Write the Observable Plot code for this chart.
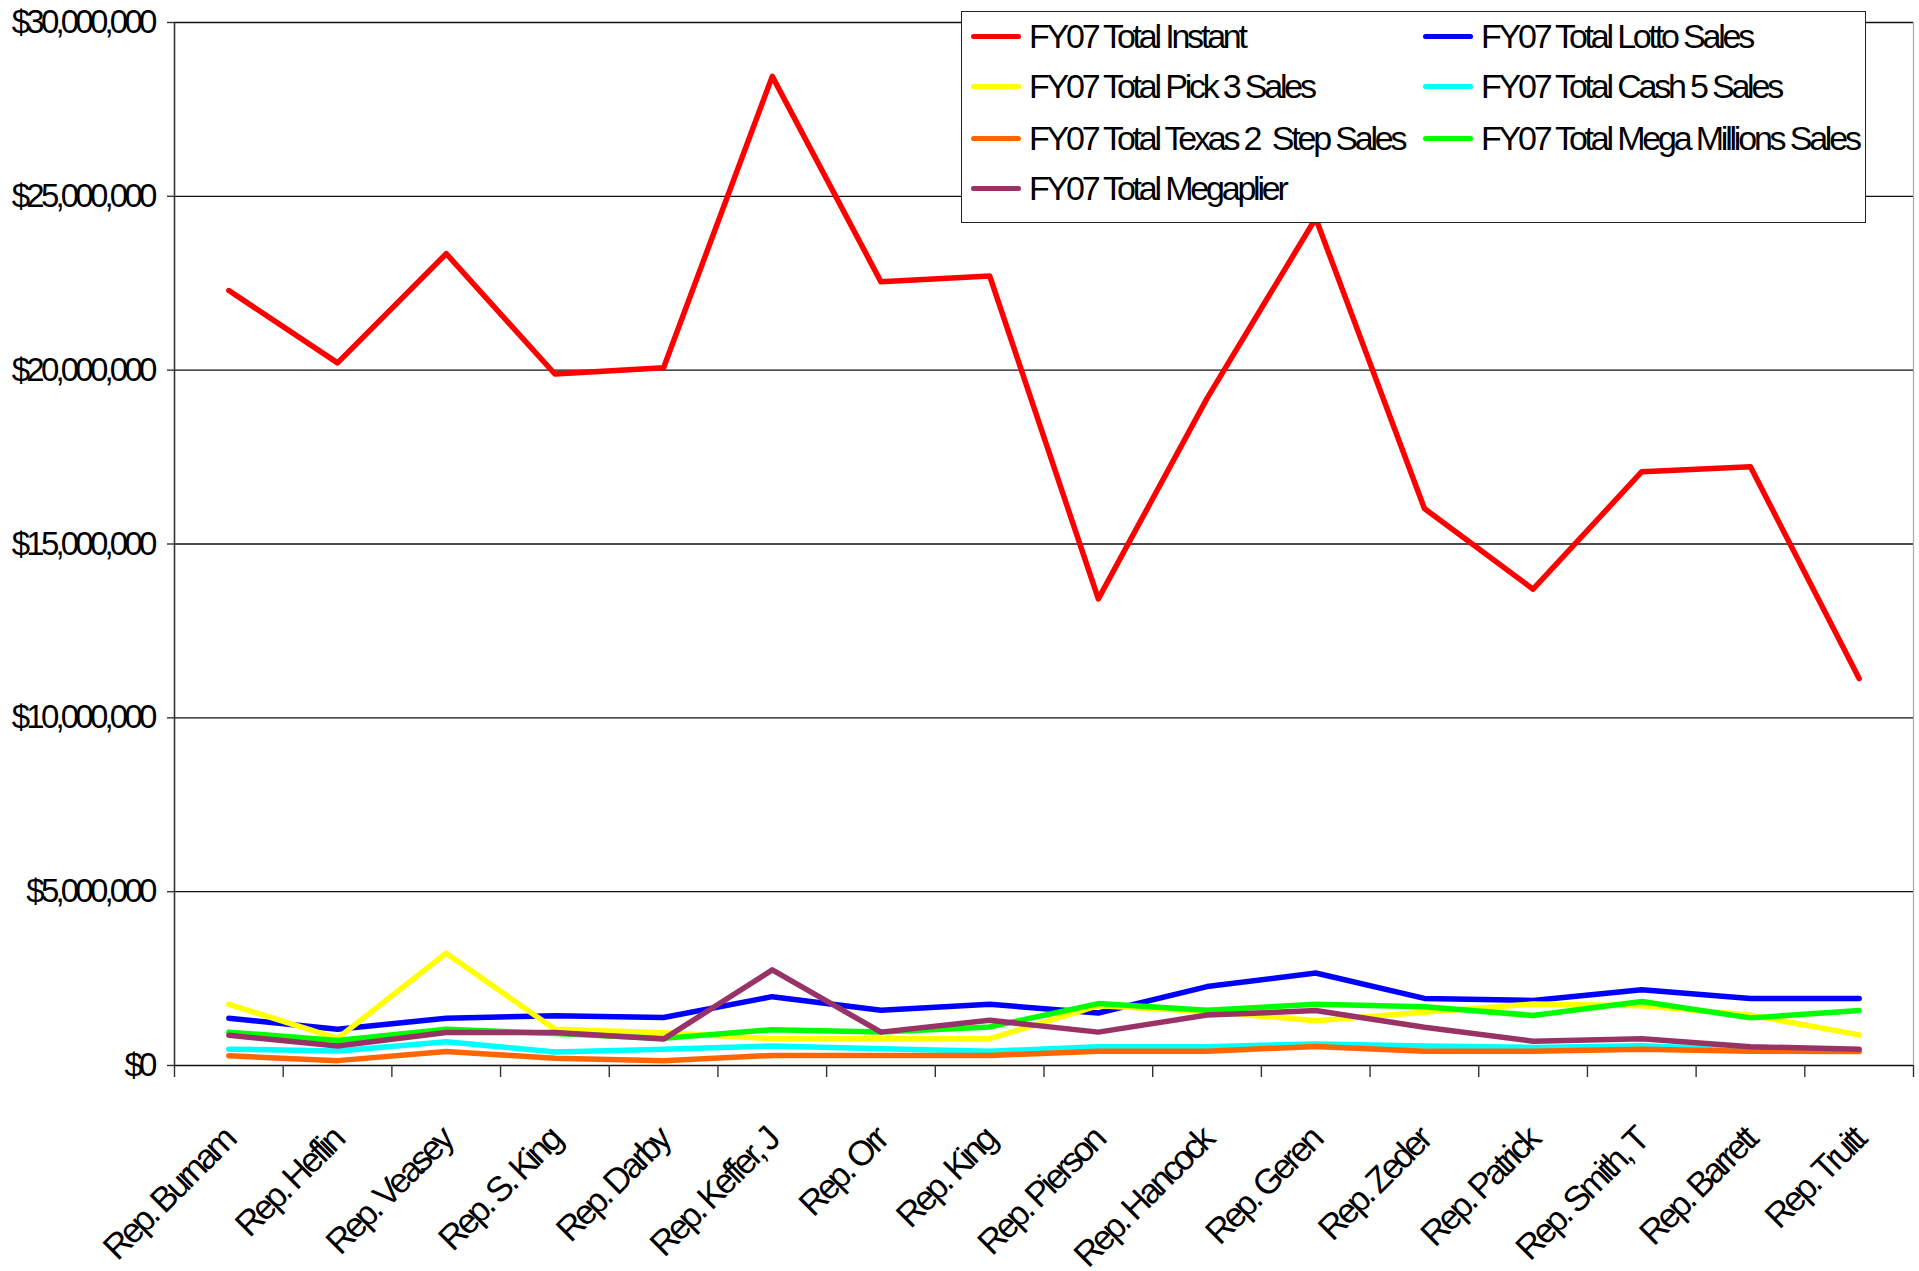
<!DOCTYPE html>
<html><head><meta charset="utf-8">
<script src="https://cdn.jsdelivr.net/npm/d3@7"></script>
<script src="https://cdn.jsdelivr.net/npm/@observablehq/plot@0.6"></script>
<style>
body{margin:0;background:#fff;}
#wrap{position:relative;width:1919px;height:1271px;font-family:"Liberation Sans",Arial,sans-serif;}
#legend{position:absolute;left:961px;top:11px;width:903px;height:210px;border:1.5px solid #222;background:#fff;}
.item{position:absolute;height:40px;display:flex;align-items:center;white-space:pre;font-size:34px;letter-spacing:-3.2px;color:#000;}
.sw{width:50px;height:5px;border-radius:3px;margin-right:8px;flex:none;}
</style></head><body><div id="wrap"></div>
<script>
const categories = ["Rep. Burnam","Rep. Heflin","Rep. Veasey","Rep. S. King","Rep. Darby","Rep. Keffer, J","Rep. Orr","Rep. King","Rep. Pierson","Rep. Hancock","Rep. Geren","Rep. Zeder","Rep. Patrick","Rep. Smith, T","Rep. Barrett","Rep. Truitt"];
const instant   = [22290000,20210000,23350000,19890000,20070000,28450000,22540000,22710000,13420000,19190000,24370000,16020000,13700000,17080000,17220000,11130000];
const lotto     = [1360000,1040000,1360000,1430000,1380000,1980000,1590000,1760000,1510000,2270000,2660000,1930000,1870000,2180000,1930000,1930000];
const pick3     = [1760000,780000,3230000,1040000,940000,770000,770000,770000,1720000,1550000,1290000,1530000,1770000,1720000,1450000,880000];
const cash5     = [470000,420000,680000,390000,470000,560000,480000,410000,540000,540000,620000,560000,520000,570000,450000,410000];
const texas2    = [280000,140000,400000,210000,140000,290000,290000,290000,410000,410000,550000,410000,410000,470000,410000,400000];
const megaMil   = [960000,720000,1040000,920000,780000,1030000,960000,1110000,1780000,1590000,1760000,1690000,1440000,1840000,1370000,1580000];
const megaplier = [870000,560000,950000,950000,760000,2750000,960000,1300000,960000,1450000,1580000,1100000,700000,770000,540000,470000];
const seriesNames = ["FY07 Total Instant","FY07 Total Lotto Sales","FY07 Total Pick 3 Sales","FY07 Total Cash 5 Sales","FY07 Total Texas 2  Step Sales","FY07 Total Mega Millions Sales","FY07 Total Megaplier"];
const seriesColors = ["#FF0000","#0000FF","#FFFF00","#00FFFF","#FF6600","#00FF00","#993366"];
const seriesValues = [instant,lotto,pick3,cash5,texas2,megaMil,megaplier];
const yTicks = [0,5000000,10000000,15000000,20000000,25000000,30000000];

const n = categories.length;
const boundaries = d3.range(n+1).map(i => i - 0.5);
const fmt = d3.format(",");

const lineMarks = seriesNames.map((name, k) => {
  const rows = seriesValues[k].map((v, i) => ({i, value: v, cat: categories[i]}));
  return Plot.line(rows, {x: "i", y: "value", stroke: seriesColors[k], strokeWidth: 5.5});
});

const chart = Plot.plot({
  width: 1919, height: 1271,
  marginLeft: 174, marginRight: 6, marginTop: 22, marginBottom: 206,
  style: {fontFamily: "Liberation Sans, Arial, sans-serif", background: "#fff", overflow: "visible", color: "#000"},
  x: {type: "linear", domain: [-0.5, n - 0.5]},
  y: {domain: [0, 30000000]},
  marks: [
    Plot.ruleY(yTicks, {stroke: "#111", strokeWidth: 1.3}),
    Plot.ruleX([n - 0.5], {stroke: "#aaa", strokeWidth: 1.2}),
    Plot.ruleX([-0.5], {stroke: "#333", strokeWidth: 1.6}),
    Plot.axisY({ticks: yTicks, tickSize: 7, tickPadding: 14, tickFormat: d => "$" + fmt(d), fontSize: 33, stroke: "#333", strokeWidth: 1.4, label: null}),
    Plot.axisX({ticks: boundaries, tickSize: 12, tickFormat: () => "", stroke: "#333", strokeWidth: 1.4, label: null}),
    Plot.axisX({ticks: d3.range(n), tickSize: 0, tickPadding: 69, tickRotate: -45, tickFormat: i => categories[i], fontSize: 35, label: null}),
    ...lineMarks
  ]
});
d3.select(chart).selectAll('g[aria-label="y-axis tick label"] text').style("letter-spacing", "-3.8px");
d3.select(chart).selectAll('g[aria-label="x-axis tick label"] text').style("letter-spacing", "-3.4px");

const wrap = document.getElementById("wrap");
wrap.appendChild(chart);

const legend = document.createElement("div");
legend.id = "legend";
const colX = [9, 461];
const rowC = [24, 74.5, 126, 176];
seriesNames.forEach((name, k) => {
  const it = document.createElement("div");
  it.className = "item";
  it.style.left = colX[k % 2] + "px";
  it.style.top = (rowC[Math.floor(k / 2)] - 20) + "px";
  const sw = document.createElement("div");
  sw.className = "sw";
  sw.style.background = seriesColors[k];
  const tx = document.createElement("span");
  tx.textContent = name;
  it.appendChild(sw); it.appendChild(tx);
  legend.appendChild(it);
});
wrap.appendChild(legend);
</script>
</body></html>
